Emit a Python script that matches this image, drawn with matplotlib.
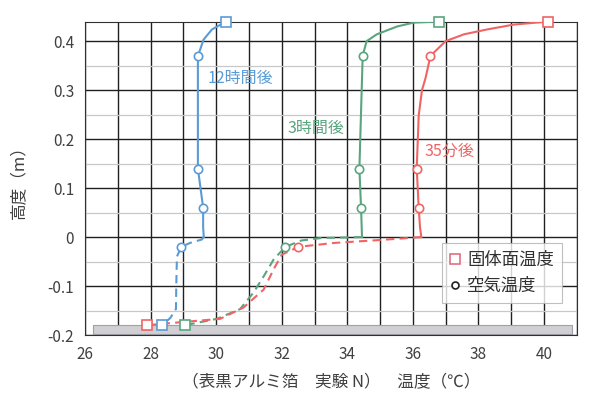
import matplotlib
matplotlib.use('Agg')
import matplotlib.pyplot as plt
from matplotlib.lines import Line2D
from matplotlib.patches import Rectangle
from matplotlib.ticker import MultipleLocator, FuncFormatter

plt.rcParams['font.family'] = ['Noto Sans CJK JP', 'DejaVu Sans']

# line paths (solid: above floor level, dashed: below)
blue_solid_x = [30.3, 29.87, 29.61, 29.51, 29.44, 29.44, 29.6, 29.6, 29.62]
blue_solid_y = [0.44, 0.424, 0.403, 0.383, 0.37, 0.14, 0.06, 0.02, 0.0]
blue_dash_x = [29.62, 29.56, 29.2, 28.93, 28.8, 28.78, 28.77, 28.6, 28.35]
blue_dash_y = [0.0, -0.005, -0.012, -0.02, -0.04, -0.1, -0.147, -0.165, -0.18]

green_solid_x = [36.8, 36.03, 35.52, 34.9, 34.59, 34.47, 34.37, 34.42, 34.45]
green_solid_y = [0.44, 0.438, 0.43, 0.414, 0.40, 0.37, 0.14, 0.06, 0.0]
green_dash_x = [34.45, 33.2, 32.6, 32.11, 31.75, 31.45, 31.14, 30.73, 30.02, 29.05]
green_dash_y = [0.0, -0.002, -0.007, -0.02, -0.046, -0.08, -0.113, -0.147, -0.167, -0.18]

red_solid_x = [40.13, 39.09, 38.27, 37.56, 37.0, 36.54, 36.39, 36.28, 36.18, 36.12, 36.18, 36.22, 36.26]
red_solid_y = [0.44, 0.434, 0.424, 0.414, 0.40, 0.37, 0.325, 0.30, 0.248, 0.14, 0.06, 0.02, 0.0]
red_dash_x = [36.26, 35.0, 33.6, 32.51, 32.0, 31.75, 31.45, 30.83, 30.12, 28.9, 27.88]
red_dash_y = [0.0, -0.006, -0.012, -0.02, -0.036, -0.066, -0.107, -0.144, -0.167, -0.174, -0.18]

# measured points
blue_air_x = [29.44, 29.44, 29.6, 28.93]
green_air_x = [34.47, 34.37, 34.42, 32.11]
red_air_x = [36.54, 36.12, 36.18, 32.51]
air_y = [0.37, 0.14, 0.06, -0.02]

blue_surf_x = [30.3, 28.35]
green_surf_x = [36.8, 29.05]
red_surf_x = [40.13, 27.88]
surf_y = [0.44, -0.18]

blue = '#5b9bd5'
green = '#5aa57e'
red = '#f06464'

fig = plt.figure(figsize=(6, 4), dpi=100)
ax = fig.add_axes([0.142, 0.1625, 0.819, 0.7835])

ax.add_patch(Rectangle((26.25, -0.197), 14.6, 0.017, facecolor='#cfcfd4',
                       edgecolor='#a0a0a8', lw=0.8, zorder=1.5))

series = [
    (blue, blue_solid_x, blue_solid_y, blue_dash_x, blue_dash_y, blue_air_x, blue_surf_x),
    (green, green_solid_x, green_solid_y, green_dash_x, green_dash_y, green_air_x, green_surf_x),
    (red, red_solid_x, red_solid_y, red_dash_x, red_dash_y, red_air_x, red_surf_x),
]
for c, sx, sy, dx, dy, ax_x, sf_x in series:
    ax.plot(sx, sy, color=c, lw=1.5, zorder=3)
    ax.plot(dx, dy, color=c, lw=1.5, ls=(0, (4, 2.5)), zorder=3)
    ax.plot(ax_x, air_y, ls='none', marker='o', ms=6, mfc='white', mec=c, mew=1.2, zorder=4)
    ax.plot(sf_x, surf_y, ls='none', marker='s', ms=7, mfc='white', mec=c, mew=1.2,
            zorder=4, clip_on=False)

ax.text(29.75, 0.324, '12時間後', color=blue, fontsize=11.5, va='center')
ax.text(32.18, 0.222, '3時間後', color=green, fontsize=11.5, va='center')
ax.text(36.37, 0.176, '35分後', color=red, fontsize=11.5, va='center')

ax.set_xlim(26, 41)
ax.set_ylim(-0.2, 0.44)
ax.xaxis.set_major_locator(MultipleLocator(2))
ax.xaxis.set_minor_locator(MultipleLocator(1))
ax.yaxis.set_major_locator(MultipleLocator(0.1))
ax.yaxis.set_minor_locator(MultipleLocator(0.05))
ax.yaxis.set_major_formatter(FuncFormatter(lambda v, p: f'{v:.1f}' if abs(v) > 1e-9 else '0'))
ax.set_axisbelow(True)
ax.grid(True, which='both', axis='x', color='#202020', lw=1.0)
ax.grid(True, which='major', axis='y', color='#202020', lw=1.0)
ax.grid(True, which='minor', axis='y', color='#c8c8c8', lw=0.9)
ax.tick_params(which='both', length=0, labelsize=11, colors='#404040', pad=8)
for s in ax.spines.values():
    s.set_color('#303030')

ax.set_xlabel('（表黒アルミ箔　実験 N）　温度（℃）', fontsize=12, color='#404040', labelpad=8)
ax.set_ylabel('高度（m）', fontsize=12, color='#404040', labelpad=14)

handles = [
    Line2D([], [], ls='none', marker='s', ms=6.5, mfc='white', mec='#e07080', mew=1.2),
    Line2D([], [], ls='none', marker='o', ms=5, mfc='white', mec='#202020', mew=1.2),
]
leg = ax.legend(handles, ['固体面温度', '空気温度'], loc='upper left', bbox_to_anchor=(0.726, 0.293),
                borderaxespad=0, fontsize=12.5, frameon=True, fancybox=False, handlelength=0.6,
                handletextpad=0.4, borderpad=0.45, labelspacing=0.45)
leg.get_frame().set_edgecolor('#b0b0b0')
leg.get_frame().set_linewidth(0.8)
for t in leg.get_texts():
    t.set_color('#303030')

fig.savefig('out.png', dpi=100, facecolor='white')
